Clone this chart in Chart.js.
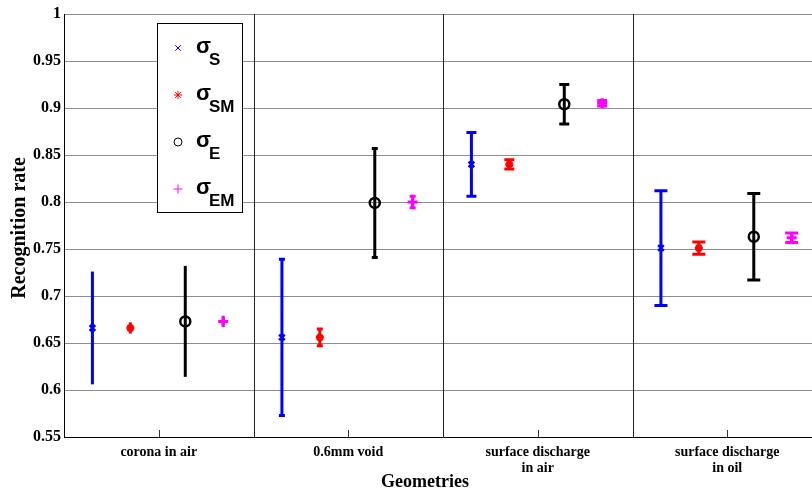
<!DOCTYPE html>
<html><head><meta charset="utf-8">
<script src="https://cdn.jsdelivr.net/npm/chart.js@4"></script>
<style>html,body{margin:0;padding:0;background:#fff;overflow:hidden;width:812px;height:495px}</style>
</head><body>
<canvas id="c" width="830" height="495"></canvas>
<script>
// ---- data ----
const categories = ['corona in air', '0.6mm void', ['surface discharge', 'in air'], ['surface discharge', 'in oil']];
const yTickValues = [0.55, 0.6, 0.65, 0.7, 0.75, 0.8, 0.85, 0.9, 0.95, 1];
const seriesSubs = ['S', 'SM', 'E', 'EM'];
const sigmaS      = [0.666, 0.656, 0.840, 0.751];
const sigmaS_err  = [0.060, 0.083, 0.034, 0.061];
const sigmaSM     = [0.666, 0.656, 0.840, 0.751];
const sigmaSM_err = [0.006, 0.009, 0.005, 0.0065];
const sigmaE      = [0.673, 0.799, 0.904, 0.763];
const sigmaE_err  = [0.059, 0.058, 0.021, 0.046];
const sigmaEM     = [0.673, 0.800, 0.905, 0.762];
const sigmaEM_err = [0.006, 0.006, 0.003, 0.005];
const xTitle = 'Geometries';
const yTitle = 'Recognition rate';

// ---- styles / layout ----
const means = [sigmaS, sigmaSM, sigmaE, sigmaEM];
const errs = [sigmaS_err, sigmaSM_err, sigmaE_err, sigmaEM_err];
const style = {
  colors: ['#0000ff', '#ff0000', '#000000', '#ff00ff'],
  pointStyles: ['crossRot', 'star', 'circle', 'cross'],
  radius: [4, 4, 5, 5],
  markerWidth: [2.5, 2.5, 2.5, 3],
  legendRadius: [3.8, 4, 4, 4.5],
  offsets: [-0.35, -0.15, 0.14, 0.34],
  capHalf: [0, 3, 5, 6.5],
  barWidth: 3
};
const serif = '"Liberation Serif", "Times New Roman", serif';
const sans = '"Liberation Sans", Arial, sans-serif';

const datasets = means.map((m, k) => ({
  label: 'σ' + seriesSubs[k],
  data: m.map((v, i) => ({ x: i + 1 + style.offsets[k], y: v })),
  pointStyle: style.pointStyles[k],
  pointRadius: style.radius[k],
  pointBorderWidth: style.markerWidth[k],
  borderColor: style.colors[k],
  backgroundColor: 'rgba(0,0,0,0)',
  showLine: false
}));

const decor = {
  id: 'decor',
  beforeDatasetsDraw(chart) {
    const ctx = chart.ctx, xs = chart.scales.x, ys = chart.scales.y, a = chart.chartArea;
    ctx.save();
    ctx.strokeStyle = '#222'; ctx.lineWidth = 1;
    for (let g = 1; g < categories.length; g++) {
      const px = Math.round(xs.getPixelForValue(g + 0.5)) + 0.5;
      ctx.beginPath(); ctx.moveTo(px, a.top); ctx.lineTo(px, a.bottom); ctx.stroke();
    }
    ctx.strokeStyle = '#333';
    for (let g = 1; g <= categories.length; g++) {
      const px = Math.round(xs.getPixelForValue(g)) + 0.5;
      ctx.beginPath(); ctx.moveTo(px, a.bottom); ctx.lineTo(px, a.bottom - 7); ctx.stroke();
    }
    ctx.lineWidth = style.barWidth;
    means.forEach((m, k) => {
      ctx.strokeStyle = style.colors[k];
      m.forEach((v, i) => {
        const px = xs.getPixelForValue(i + 1 + style.offsets[k]);
        const t = ys.getPixelForValue(v + errs[k][i]);
        const b = ys.getPixelForValue(v - errs[k][i]);
        const c = style.capHalf[i];
        ctx.beginPath(); ctx.moveTo(px, t); ctx.lineTo(px, b); ctx.stroke();
        if (c > 0) {
          ctx.beginPath();
          ctx.moveTo(px - c, t); ctx.lineTo(px + c, t);
          ctx.moveTo(px - c, b); ctx.lineTo(px + c, b);
          ctx.stroke();
        }
      });
    });
    ctx.restore();
  },
  afterDraw(chart) {
    const ctx = chart.ctx;
    ctx.save();
    const L = { x: 157, y: 23, w: 85, h: 189 };
    ctx.fillStyle = '#fff';
    ctx.fillRect(L.x, L.y, L.w, L.h);
    ctx.strokeStyle = '#000'; ctx.lineWidth = 1;
    ctx.strokeRect(L.x + 0.5, L.y + 0.5, L.w, L.h);
    seriesSubs.forEach((s, k) => {
      const cy = 48 + k * 47, mx = 178;
      ctx.strokeStyle = style.colors[k];
      ctx.fillStyle = 'rgba(0,0,0,0)';
      ctx.lineWidth = 1;
      Chart.helpers.drawPoint(ctx, {
        pointStyle: style.pointStyles[k],
        radius: style.legendRadius[k],
        borderWidth: 1,
        rotation: 0
      }, mx, cy);
      ctx.fillStyle = '#000';
      ctx.textAlign = 'left'; ctx.textBaseline = 'alphabetic';
      ctx.font = 'bold 22px ' + sans;
      ctx.fillText('σ', 196, cy + 5);
      ctx.font = 'bold 17px ' + sans;
      ctx.fillText(s, 209, cy + 17);
    });
    ctx.fillStyle = '#000';
    ctx.textAlign = 'center'; ctx.textBaseline = 'middle';
    ctx.font = 'bold 18px ' + serif;
    ctx.fillText(xTitle, 425, 482);
    ctx.translate(20, 228);
    ctx.rotate(-Math.PI / 2);
    ctx.font = 'bold 20px ' + serif;
    ctx.fillText(yTitle, 0, 0);
    ctx.restore();
  }
};

new Chart(document.getElementById('c'), {
  type: 'scatter',
  data: { datasets },
  plugins: [decor],
  options: {
    responsive: false,
    animation: false,
    devicePixelRatio: 1,
    layout: { padding: { top: 14, left: 0, right: 0, bottom: 0 } },
    plugins: { legend: { display: false }, tooltip: { enabled: false } },
    scales: {
      x: {
        type: 'linear', min: 0.5, max: 4.5,
        afterBuildTicks: s => { s.ticks = categories.map((c, i) => ({ value: i + 1 })); },
        afterFit: s => { s.height = 58; },
        grid: { display: false, drawTicks: false },
        border: { display: true, color: '#000', width: 1 },
        ticks: {
          padding: 7, color: '#000', maxRotation: 0, autoSkip: false,
          font: { family: serif, size: 14, weight: 'bold', lineHeight: 1.15 },
          callback: v => categories[Math.round(v) - 1]
        }
      },
      y: {
        type: 'linear', min: 0.55, max: 1,
        afterBuildTicks: s => { s.ticks = yTickValues.map(v => ({ value: v })); },
        afterFit: s => { s.width = 64; },
        grid: { color: '#8c8c8c', lineWidth: 1, drawTicks: false },
        border: { display: true, color: '#000', width: 1 },
        ticks: {
          padding: 3, color: '#000',
          font: { family: serif, size: 16, weight: 'bold' },
          callback: v => String(Number(v.toFixed(2)))
        }
      }
    }
  }
});
</script>
</body></html>
